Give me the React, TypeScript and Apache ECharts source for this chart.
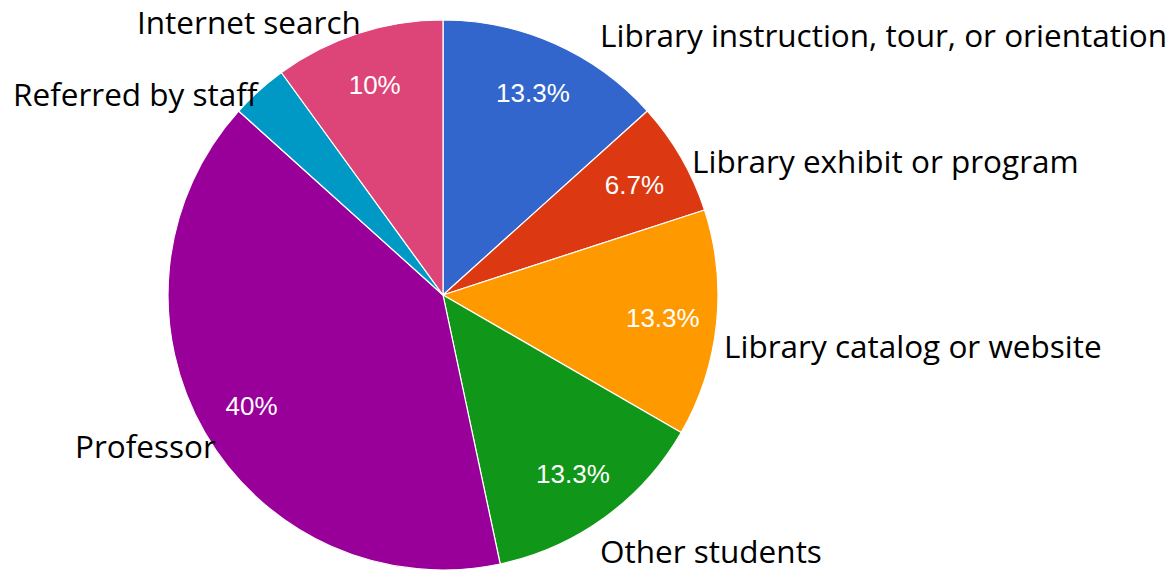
import React, { useEffect, useRef } from "react";
import * as echarts from "echarts";

const categories = [
  "Library instruction, tour, or orientation",
  "Library exhibit or program",
  "Library catalog or website",
  "Other students",
  "Professor",
  "Referred by staff",
  "Internet search",
];
const counts = [4, 2, 4, 4, 12, 1, 3];
const colors = ["#3366cc", "#dc3912", "#ff9900", "#109618", "#990099", "#0099c6", "#dd4477"];

// left x / vertical middle of each outside category label
const labelAnchors = [
  [600, 34],
  [692, 160],
  [724, 345],
  [600, 550],
  [75, 445],
  [13, 93],
  [137, 21],
];

export default function App() {
  const ref = useRef<HTMLDivElement>(null);
  useEffect(() => {
    if (!ref.current) return;
    const chart = echarts.init(ref.current, null, { renderer: "svg" });
    const total = counts.reduce((a, b) => a + b, 0);
    const data = categories.map((name, i) => ({
      name,
      value: counts[i],
      itemStyle: { color: colors[i] },
    }));
    const pctText = (v: number) => {
      const p = (v / total) * 100;
      if (p < 5) return "";
      return `${Number(p.toFixed(1))}%`;
    };
    chart.setOption({
      animation: false,
      backgroundColor: "#ffffff",
      series: [
        {
          type: "pie",
          center: [443, 295],
          radius: [0, 275],
          startAngle: 90,
          clockwise: true,
          silent: true,
          label: { show: false },
          labelLine: { show: false },
          itemStyle: { borderColor: "#ffffff", borderWidth: 1.2 },
          data,
        },
        {
          type: "pie",
          center: [443, 295],
          radius: [161, 275],
          startAngle: 90,
          clockwise: true,
          silent: true,
          z: 5,
          itemStyle: { color: "rgba(0,0,0,0)", borderWidth: 0 },
          labelLine: { show: false },
          label: {
            show: true,
            position: "inside",
            color: "#ffffff",
            fontFamily: "Arial, 'Liberation Sans', sans-serif",
            fontSize: 26,
            formatter: (p: any) => pctText(p.value),
          },
          data: categories.map((name, i) => ({ name, value: counts[i] })),
        },
      ],
      graphic: categories.map((name, i) => ({
        type: "text",
        x: labelAnchors[i][0],
        y: labelAnchors[i][1],
        z: 100,
        style: {
          text: name,
          fill: "#000000",
          font: "31.5px 'Open Sans', Lato, sans-serif",
          textAlign: "left",
          textVerticalAlign: "middle",
        },
      })),
    });
    return () => chart.dispose();
  }, []);
  return (
    <div
      ref={ref}
      style={{ position: "fixed", left: 0, top: 0, width: 1172, height: 572 }}
    />
  );
}
